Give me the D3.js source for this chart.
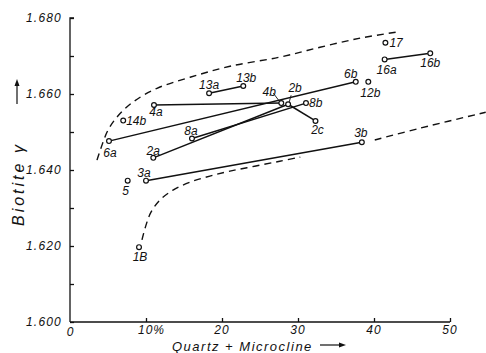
<!DOCTYPE html>
<html><head><meta charset="utf-8">
<script src="https://cdn.jsdelivr.net/npm/d3@7"></script>
<style>
html,body{margin:0;padding:0;background:#fff;}
svg{display:block;}
text{font-family:"Liberation Sans",Arial,sans-serif;font-style:italic;fill:#111;}
</style></head>
<body>
<svg id="c" width="486" height="353"></svg>
<script>
// ---- data ----
const sampleLabels = ["1B","5","3a","3b","2a","6a","6b","12b","16a","16b","17","4a","4b","2b","2c","8a","8b","13a","13b","14b"];
const sampleX = [9.08,7.59,10.0,38.4,10.96,5.13,37.6,39.25,41.4,47.4,41.5,11.05,27.8,28.7,32.3,16.05,31.05,18.3,22.8,7.0];
const sampleY = [1.6197,1.6372,1.6372,1.6473,1.6432,1.6476,1.6632,1.6632,1.6691,1.6707,1.6735,1.6571,1.6576,1.6573,1.6529,1.6483,1.6576,1.6602,1.6621,1.6530];
const links = [["3a","3b"],["2a","2b"],["2b","2c"],["6a","6b"],["4a","4b"],["8a","8b"],["13a","13b"],["16a","16b"]];
const upperX = [3.55,4.08,5.0,6.3,8.3,11.45,15.8,21.05,27.6,32.9,38.2,43.0];
const upperY = [1.6426,1.6458,1.6505,1.6542,1.6579,1.6615,1.6644,1.6673,1.6697,1.6723,1.6747,1.6763];
const lowerX = [9.47,10.0,10.66,11.84,13.55,15.8,18.4,21.05,24.3,27.6,30.3];
const lowerY = [1.6216,1.6255,1.6289,1.6321,1.6347,1.6368,1.6384,1.6397,1.6410,1.6423,1.6434];
const lower2X = [40.1,46.05,54.7];
const lower2Y = [1.6479,1.6510,1.6552];
const xTicks = [10,20,30,40,50];
const xTickLabels = ["10%","20","30","40","50"];
const yTicks = [1.600,1.620,1.640,1.660,1.680];
const yMinor = [1.610,1.630,1.650,1.670];

// ---- label placement (dx, dy, anchor) ----
const labelPos = {
 "1B":[1,14,"middle"],"5":[-2,14,"middle"],"3a":[-2,-4,"middle"],"3b":[-1,-5,"middle"],
 "2a":[0,-3,"middle"],"6a":[1,16,"middle"],"6b":[-5,-4,"middle"],"12b":[2,15,"middle"],
 "16a":[2,15,"middle"],"16b":[0,14,"middle"],"17":[4,4,"start"],"4a":[2,11,"middle"],
 "4b":[-12,-7,"middle"],"2b":[7,-12,"middle"],"2c":[2,13,"middle"],"8a":[-1,-3,"middle"],
 "8b":[3,4,"start"],"13a":[0,-4,"middle"],"13b":[3,-4,"middle"],"14b":[3,4,"start"]
};
const leaders = {"4b":[[-8,-10],[-2,-2]],"2b":[[3,-9],[1,-2]]};

const svg = d3.select("#c");
const x = d3.scaleLinear().domain([0,50]).range([70,450]);
const y = d3.scaleLinear().domain([1.600,1.680]).range([322,18]);

// axes
const yAxis = d3.axisRight(y).tickValues(yTicks.concat(yMinor)).tickSize(4).tickFormat("");
const gy = svg.append("g").attr("transform","translate(70,0)").call(yAxis);
gy.select(".domain").attr("d","M0,"+y(1.600)+"V"+y(1.680)+"H4");
gy.selectAll("path,line").attr("stroke","#111").attr("stroke-width",1.3);
const xAxis = d3.axisTop(x).tickValues(xTicks).tickSize(4).tickFormat("");
const gx = svg.append("g").attr("transform","translate(0,322)").call(xAxis);
gx.select(".domain").attr("d","M70,0H"+x(50));
gx.selectAll("path,line").attr("stroke","#111").attr("stroke-width",1.3);

// tick labels
svg.selectAll(".yl").data(yTicks).enter().append("text")
  .attr("x",62).attr("y",d=>y(d)+4).attr("text-anchor","end")
  .attr("font-size",12).attr("letter-spacing",1.2).text(d=>d3.format(".3f")(d));
svg.append("text").attr("x",x(0)).attr("y",336).attr("text-anchor","middle").attr("font-size",12).text("0");
svg.selectAll(".xl").data(xTicks).enter().append("text")
  .attr("x",(d,i)=> i===0 ? x(d)-8 : x(d)).attr("y",334)
  .attr("text-anchor",(d,i)=> i===0?"start":"middle")
  .attr("font-size",12).attr("letter-spacing",1).text((d,i)=>xTickLabels[i]);

// axis titles
svg.append("text").attr("x",172).attr("y",351).attr("font-size",13).attr("letter-spacing",1.5)
  .text("Quartz + Microcline");
svg.append("line").attr("x1",320).attr("x2",343).attr("y1",345).attr("y2",345).attr("stroke","#111").attr("stroke-width",1.2);
svg.append("path").attr("d","M346,345 l-7,-2.5 v5 z").attr("fill","#111");
svg.append("text").attr("transform","translate(24,226) rotate(-90)").attr("font-size",16).attr("letter-spacing",3)
  .text("Biotite γ");
svg.append("line").attr("x1",17).attr("x2",17).attr("y1",104).attr("y2",83).attr("stroke","#111").attr("stroke-width",1.2);
svg.append("path").attr("d","M17,79 l-2.5,7 h5 z").attr("fill","#111");

// dashed curves
const line = d3.line().x(d=>x(d[0])).y(d=>y(d[1])).curve(d3.curveCatmullRom);
const dash = (xs,ys)=> svg.append("path").attr("d",line(xs.map((v,i)=>[v,ys[i]])))
  .attr("fill","none").attr("stroke","#111").attr("stroke-width",1.4).attr("stroke-dasharray","7,5");
dash(upperX,upperY); dash(lowerX,lowerY); dash(lower2X,lower2Y);

// links
const idx = l => sampleLabels.indexOf(l);
svg.selectAll(".lk").data(links).enter().append("line")
  .attr("x1",d=>x(sampleX[idx(d[0])])).attr("y1",d=>y(sampleY[idx(d[0])]))
  .attr("x2",d=>x(sampleX[idx(d[1])])).attr("y2",d=>y(sampleY[idx(d[1])]))
  .attr("stroke","#111").attr("stroke-width",1.5);

// leaders
Object.keys(leaders).forEach(k=>{
  const i=idx(k), px=x(sampleX[i]), py=y(sampleY[i]), L=leaders[k];
  svg.append("line").attr("x1",px+L[0][0]).attr("y1",py+L[0][1]).attr("x2",px+L[1][0]).attr("y2",py+L[1][1])
   .attr("stroke","#111").attr("stroke-width",0.9);
});

// points
svg.selectAll(".pt").data(sampleLabels).enter().append("circle")
  .attr("cx",(d,i)=>x(sampleX[i])).attr("cy",(d,i)=>y(sampleY[i])).attr("r",2.4)
  .attr("fill","#fff").attr("stroke","#111").attr("stroke-width",1.2);

// point labels
svg.selectAll(".pl").data(sampleLabels).enter().append("text")
  .attr("x",(d,i)=>x(sampleX[i])+labelPos[d][0]).attr("y",(d,i)=>y(sampleY[i])+labelPos[d][1])
  .attr("text-anchor",d=>labelPos[d][2]).attr("font-size",12).text(d=>d);
</script>
</body></html>
